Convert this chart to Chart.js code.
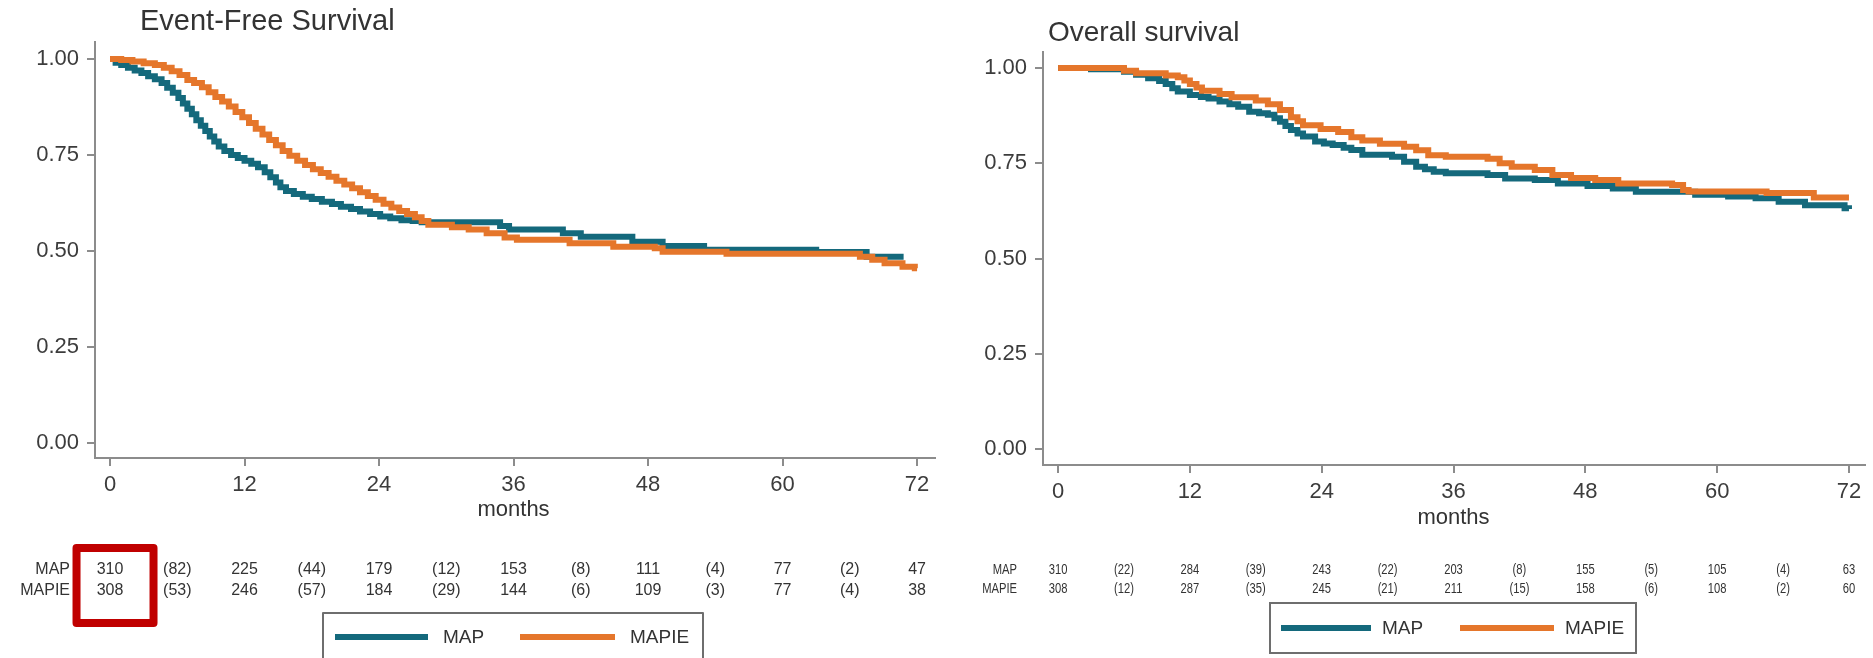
<!DOCTYPE html>
<html>
<head>
<meta charset="utf-8">
<title>Event-Free and Overall Survival, MAP vs MAPIE</title>
<script src="https://cdn.jsdelivr.net/npm/chart.js@4.4.1/dist/chart.umd.min.js"></script>
<style>
  body { margin: 0; background: #fff; }
  #wrap { position: relative; width: 1873px; height: 658px; overflow: hidden; background: #fff; }
  canvas { position: absolute; top: 0; }
  #chart_efs { left: 0; }
  #chart_os { left: 940px; }
</style>
</head>
<body>
<div id="wrap">
  <canvas id="chart_efs" width="940" height="658"></canvas>
  <canvas id="chart_os" width="933" height="658"></canvas>
</div>
<script>
// axis ticks and groups
var tickMonths = [0, 12, 24, 36, 48, 60, 72];
var yTicks = [0, 0.25, 0.5, 0.75, 1];
var tableMonths = [0, 6, 12, 18, 24, 30, 36, 42, 48, 54, 60, 66, 72];
var groups = ['MAP', 'MAPIE'];

// event-free survival
var efsMapTime = [0, 0.5, 1.0, 1.6, 2.2, 2.8, 3.4, 4.0, 4.6, 5.1, 5.6, 6.1, 6.5, 6.9, 7.3, 7.7, 8.1, 8.5, 8.9, 9.3, 9.7, 10.2, 10.8, 11.4, 12.0, 12.6, 13.2, 13.8, 14.3, 14.8, 15.2, 15.7, 16.4, 17.2, 18.0, 18.9, 19.8, 20.6, 21.5, 22.3, 23.2, 24.1, 25.0, 26.0, 27.0, 27.8, 34.8, 35.6, 40.4, 42.0, 46.6, 49.3, 53.0, 63.0, 67.5, 70.8];
var efsMapSurv = [1.0, 0.990, 0.984, 0.977, 0.970, 0.963, 0.955, 0.947, 0.937, 0.925, 0.912, 0.898, 0.884, 0.870, 0.856, 0.840, 0.826, 0.812, 0.798, 0.785, 0.772, 0.760, 0.750, 0.742, 0.735, 0.727, 0.718, 0.705, 0.692, 0.678, 0.666, 0.656, 0.648, 0.641, 0.635, 0.628, 0.622, 0.615, 0.609, 0.603, 0.596, 0.590, 0.585, 0.580, 0.578, 0.575, 0.565, 0.556, 0.546, 0.537, 0.524, 0.513, 0.503, 0.497, 0.485, 0.485];
var efsMapieTime = [0, 1.0, 2.0, 3.0, 4.0, 4.8, 5.5, 6.2, 6.9, 7.5, 8.2, 8.8, 9.4, 10.0, 10.6, 11.2, 11.8, 12.4, 13.0, 13.6, 14.2, 14.8, 15.4, 16.0, 16.7, 17.4, 18.1, 18.8, 19.5, 20.2, 20.9, 21.6, 22.3, 23.0, 23.7, 24.4, 25.1, 25.8, 26.5, 27.2, 27.8, 28.4, 30.5, 32.0, 33.6, 35.2, 36.3, 41.0, 44.9, 48.6, 49.3, 55.0, 66.9, 68.0, 69.1, 70.7, 71.8, 72.0];
var efsMapieSurv = [1.0, 0.997, 0.993, 0.989, 0.984, 0.977, 0.968, 0.958, 0.945, 0.937, 0.926, 0.913, 0.901, 0.889, 0.876, 0.862, 0.848, 0.833, 0.818, 0.803, 0.789, 0.775, 0.760, 0.748, 0.735, 0.724, 0.713, 0.703, 0.693, 0.683, 0.673, 0.663, 0.653, 0.643, 0.633, 0.623, 0.613, 0.604, 0.596, 0.588, 0.578, 0.568, 0.562, 0.556, 0.546, 0.535, 0.529, 0.520, 0.511, 0.507, 0.498, 0.493, 0.485, 0.477, 0.468, 0.459, 0.455, 0.455];

// overall survival
var osMapTime = [0, 3.0, 6.0, 7.1, 8.2, 9.2, 9.8, 10.4, 10.9, 12.0, 13.0, 13.7, 14.7, 15.6, 16.4, 17.4, 18.3, 19.1, 19.7, 20.2, 20.7, 21.2, 21.8, 22.3, 23.4, 24.2, 25.0, 26.0, 26.7, 27.7, 30.4, 31.5, 32.6, 33.4, 34.2, 35.3, 39.1, 40.7, 43.4, 45.5, 48.2, 50.5, 52.6, 58.0, 61.0, 63.5, 65.6, 68.0, 71.6, 72.0];
var osMapSurv = [1.0, 0.997, 0.990, 0.982, 0.973, 0.966, 0.958, 0.947, 0.938, 0.929, 0.924, 0.920, 0.912, 0.905, 0.898, 0.885, 0.881, 0.877, 0.868, 0.859, 0.848, 0.837, 0.828, 0.820, 0.807, 0.802, 0.798, 0.791, 0.785, 0.772, 0.767, 0.754, 0.741, 0.734, 0.728, 0.724, 0.719, 0.710, 0.706, 0.697, 0.690, 0.684, 0.675, 0.667, 0.663, 0.658, 0.649, 0.640, 0.632, 0.630];
var osMapieTime = [0, 6.0, 7.1, 9.8, 10.9, 11.5, 12.0, 12.6, 13.1, 14.7, 15.8, 18.0, 19.1, 20.2, 21.2, 21.8, 22.3, 23.9, 25.5, 26.7, 27.7, 29.3, 31.5, 32.6, 33.7, 35.3, 39.1, 40.2, 41.3, 43.4, 45.0, 46.7, 48.9, 51.0, 55.9, 56.9, 57.4, 64.5, 68.8, 72.0];
var osMapieSurv = [1.0, 0.993, 0.986, 0.980, 0.976, 0.967, 0.958, 0.949, 0.940, 0.932, 0.923, 0.915, 0.905, 0.890, 0.871, 0.860, 0.850, 0.840, 0.832, 0.818, 0.810, 0.801, 0.793, 0.784, 0.771, 0.767, 0.762, 0.750, 0.741, 0.732, 0.719, 0.711, 0.706, 0.697, 0.693, 0.680, 0.676, 0.672, 0.660, 0.660];

// numbers at risk (events in brackets)
var efsRiskMap = ['310', '(82)', '225', '(44)', '179', '(12)', '153', '(8)', '111', '(4)', '77', '(2)', '47'];
var efsRiskMapie = ['308', '(53)', '246', '(57)', '184', '(29)', '144', '(6)', '109', '(3)', '77', '(4)', '38'];
var osRiskMap = ['310', '(22)', '284', '(39)', '243', '(22)', '203', '(8)', '155', '(5)', '105', '(4)', '63'];
var osRiskMapie = ['308', '(12)', '287', '(35)', '245', '(21)', '211', '(15)', '158', '(6)', '108', '(2)', '60'];

var TEAL = '#14697c';
var ORANGE = '#e5762b';
var AXIS = '#8c8c8c';
var TEXT = '#333333';
var FONT = '"Liberation Sans", Arial, sans-serif';

var toPoints = function (times, surv) {
    return times.map(function (t, i) {
        return { x: t, y: surv[i] };
    });
};

// title, x title, risk table and legend box
var kmExtras = function (e) {
    return {
        id: 'kmExtras',
        afterDraw: function (chart) {
            var ctx = chart.ctx;
            var xs = chart.scales.x;
            ctx.save();
            ctx.fillStyle = TEXT;
            ctx.textBaseline = 'middle';

            ctx.textAlign = 'left';
            ctx.font = e.titleSize + 'px ' + FONT;
            ctx.fillText(e.title, e.titleX, e.titleY);

            ctx.textAlign = 'center';
            ctx.font = '22px ' + FONT;
            ctx.fillText('months', xs.getPixelForValue(36), e.monthsY);

            ctx.font = e.tableFont + 'px ' + FONT;
            e.risk.forEach(function (row, r) {
                ctx.save();
                ctx.translate(e.labelRight, e.rowY[r]);
                ctx.scale(e.condense, 1);
                ctx.textAlign = 'right';
                ctx.fillText(groups[r], 0, 0);
                ctx.restore();
                row.forEach(function (v, i) {
                    ctx.save();
                    ctx.translate(xs.getPixelForValue(tableMonths[i]), e.rowY[r]);
                    ctx.scale(e.condense, 1);
                    ctx.textAlign = 'center';
                    ctx.fillText(v, 0, 0);
                    ctx.restore();
                });
            });

            if (e.highlight) {
                var h = e.highlight;
                var cx = xs.getPixelForValue(tableMonths[0]) + h.dx;
                ctx.strokeStyle = '#c00000';
                ctx.lineWidth = 8;
                ctx.lineJoin = 'round';
                ctx.strokeRect(cx - h.w / 2, h.y, h.w, h.h);
            }

            var lg = e.legend;
            ctx.strokeStyle = '#6e6e6e';
            ctx.lineWidth = 2;
            ctx.strokeRect(lg.x, lg.y, lg.w, lg.h);
            ctx.font = '19px ' + FONT;
            ctx.textAlign = 'left';
            chart.data.datasets.forEach(function (ds, i) {
                var it = lg.items[i];
                ctx.strokeStyle = ds.borderColor;
                ctx.lineWidth = 6;
                ctx.beginPath();
                ctx.moveTo(it.x, lg.lineY);
                ctx.lineTo(it.x + it.len, lg.lineY);
                ctx.stroke();
                ctx.fillStyle = TEXT;
                ctx.fillText(ds.label, it.tx, lg.lineY + 1);
            });
            ctx.restore();
        }
    };
};

var makeKm = function (canvasId, p) {
    return new Chart(document.getElementById(canvasId), {
        type: 'line',
        data: {
            datasets: [
                { label: groups[0], data: toPoints(p.mapTime, p.mapSurv), borderColor: TEAL, borderWidth: 6, stepped: 'before', pointRadius: 0, fill: false, order: 1 },
                { label: groups[1], data: toPoints(p.mapieTime, p.mapieSurv), borderColor: ORANGE, borderWidth: 6, stepped: 'before', pointRadius: 0, fill: false, order: 0 }
            ]
        },
        options: {
            responsive: false,
            animation: false,
            layout: { padding: { top: p.top, right: p.right, left: 0, bottom: 0 } },
            plugins: { legend: { display: false }, tooltip: { enabled: false } },
            scales: {
                x: {
                    type: 'linear',
                    min: p.xMin,
                    max: p.xMax,
                    afterBuildTicks: function (s) {
                        s.ticks = tickMonths.map(function (v) { return { value: v }; });
                    },
                    afterFit: function (s) { s.height = p.xHeight; },
                    grid: { drawOnChartArea: false, drawTicks: true, tickLength: 8, color: AXIS, lineWidth: 2 },
                    border: { display: true, color: AXIS, width: 2 },
                    ticks: { autoSkip: false, maxRotation: 0, padding: 6, color: '#3c3c3c', font: { family: FONT, size: 22 } }
                },
                y: {
                    type: 'linear',
                    min: p.yMin,
                    max: p.yMax,
                    afterBuildTicks: function (s) {
                        s.ticks = yTicks.map(function (v) { return { value: v }; });
                    },
                    afterFit: function (s) { s.width = p.yWidth; },
                    grid: { drawOnChartArea: false, drawTicks: true, tickLength: 8, color: AXIS, lineWidth: 2 },
                    border: { display: true, color: AXIS, width: 2 },
                    ticks: {
                        autoSkip: false, padding: 8, color: '#3c3c3c', font: { family: FONT, size: 22 },
                        callback: function (v) { return Number(v).toFixed(2); }
                    }
                }
            }
        },
        plugins: [kmExtras(p.extras)]
    });
};

var efs_chart = makeKm('chart_efs', {
    mapTime: efsMapTime, mapSurv: efsMapSurv, mapieTime: efsMapieTime, mapieSurv: efsMapieSurv,
    top: 42, right: 5, yWidth: 95, xHeight: 200,
    xMin: -1.34, xMax: 73.6, yMin: -0.039, yMax: 1.044,
    extras: {
        title: 'Event-Free Survival', titleSize: 29, titleX: 140, titleY: 22,
        monthsY: 510,
        tableFont: 16, condense: 1, labelRight: 70, rowY: [570, 591],
        risk: [efsRiskMap, efsRiskMapie],
        highlight: { dx: 5, y: 548, w: 77, h: 75 },
        legend: { x: 323, y: 613, w: 380, h: 52, lineY: 637, items: [{ x: 335, len: 93, tx: 443 }, { x: 520, len: 95, tx: 630 }] }
    }
});

var os_chart = makeKm('chart_os', {
    mapTime: osMapTime, mapSurv: osMapSurv, mapieTime: osMapieTime, mapieSurv: osMapieSurv,
    top: 52, right: 8, yWidth: 103, xHeight: 193,
    xMin: -1.37, xMax: 73.46, yMin: -0.042, yMax: 1.042,
    extras: {
        title: 'Overall survival', titleSize: 28, titleX: 108, titleY: 33,
        monthsY: 518,
        tableFont: 14, condense: 0.8, labelRight: 77, rowY: [570, 589],
        risk: [osRiskMap, osRiskMapie],
        legend: { x: 330, y: 603, w: 366, h: 50, lineY: 628, items: [{ x: 341, len: 90, tx: 442 }, { x: 520, len: 94, tx: 625 }] }
    }
});
</script>
</body>
</html>
